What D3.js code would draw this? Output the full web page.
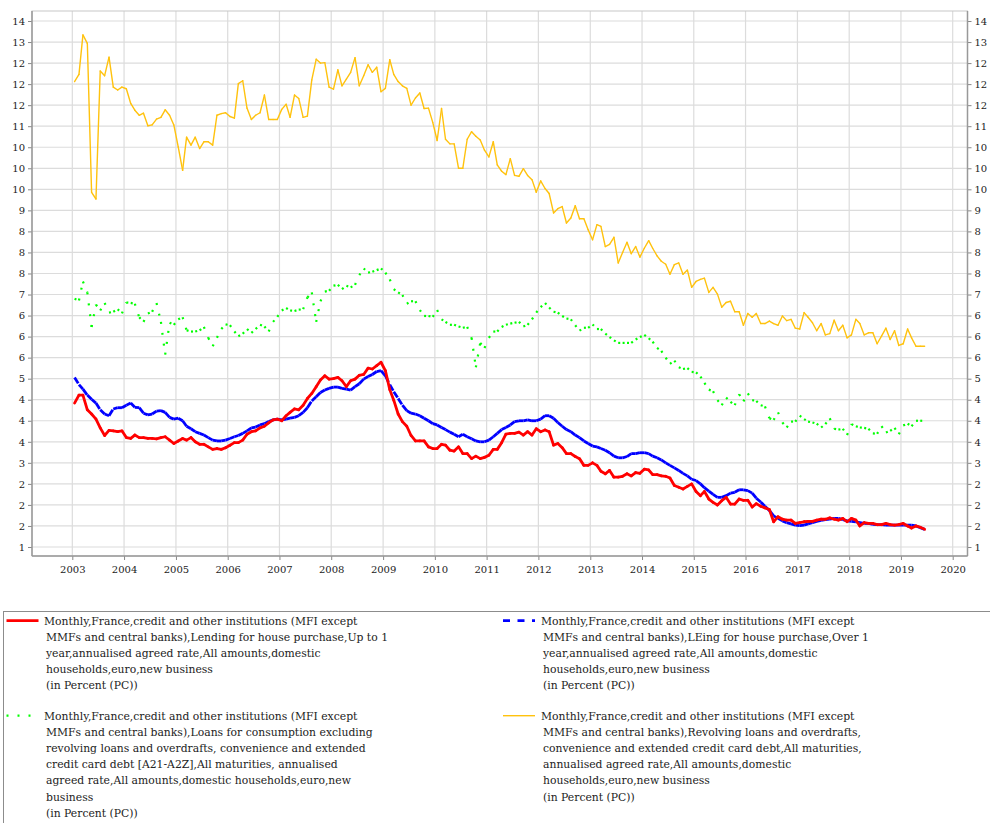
<!DOCTYPE html>
<html>
<head>
<meta charset="utf-8">
<script src="https://cdn.jsdelivr.net/npm/d3@7"></script>
<style>
  body { margin: 0; background: #fff; }
  svg text { font-family: "DejaVu Serif", serif; fill: #222; }
</style>
</head>
<body>
<div id="chart"></div>
<script>
// maandelijkse waarden, jan 2003 t/m jun 2019
const startMonth = new Date(2003, 0, 1)
const endMonth = new Date(2019, 6, 1)

const houseShort = [4.42,4.61,4.61,4.26,4.16,4.04,3.83,3.65,3.77,3.76,3.74,3.76,
  3.6,3.58,3.66,3.6,3.6,3.58,3.58,3.57,3.6,3.62,3.54,3.46,
  3.52,3.58,3.54,3.6,3.5,3.44,3.44,3.38,3.32,3.34,3.32,3.36,
  3.42,3.48,3.48,3.54,3.68,3.74,3.76,3.83,3.87,3.95,4.02,4.04,
  4.0,4.12,4.2,4.28,4.26,4.37,4.53,4.65,4.81,4.97,5.07,4.99,
  5.0,5.03,4.95,4.81,4.95,4.99,5.08,5.1,5.25,5.23,5.31,5.39,
  5.19,4.74,4.49,4.16,3.98,3.87,3.65,3.52,3.52,3.52,3.38,3.34,
  3.34,3.44,3.42,3.3,3.28,3.38,3.22,3.22,3.1,3.16,3.1,3.13,
  3.18,3.32,3.32,3.48,3.68,3.7,3.7,3.73,3.66,3.74,3.66,3.81,
  3.74,3.78,3.74,3.42,3.46,3.36,3.22,3.22,3.15,3.1,2.94,2.94,
  3.0,2.94,2.8,2.74,2.82,2.66,2.66,2.68,2.74,2.69,2.77,2.75,
  2.85,2.83,2.72,2.72,2.69,2.68,2.64,2.46,2.42,2.38,2.44,2.5,
  2.32,2.22,2.32,2.14,2.06,2.0,2.1,2.18,2.02,2.02,2.14,2.11,
  2.11,1.95,2.03,1.97,1.93,1.89,1.6,1.72,1.66,1.64,1.64,1.56,
  1.58,1.6,1.61,1.61,1.64,1.66,1.66,1.69,1.66,1.64,1.68,1.6,
  1.68,1.64,1.5,1.58,1.56,1.56,1.53,1.53,1.56,1.53,1.52,1.53,
  1.56,1.5,1.45,1.5,1.47,1.42]

const houseLong = [5.03,4.86,4.75,4.61,4.51,4.42,4.26,4.16,4.12,4.28,4.31,4.31,
  4.37,4.42,4.32,4.31,4.18,4.14,4.16,4.23,4.24,4.2,4.08,4.04,
  4.06,4.0,3.87,3.81,3.74,3.7,3.66,3.6,3.54,3.52,3.52,3.54,
  3.58,3.62,3.65,3.7,3.76,3.83,3.85,3.9,3.93,3.98,4.02,4.04,
  4.02,4.04,4.06,4.08,4.12,4.2,4.31,4.47,4.57,4.67,4.73,4.77,
  4.8,4.8,4.77,4.75,4.73,4.81,4.88,4.99,5.05,5.1,5.17,5.19,
  5.07,4.86,4.69,4.53,4.37,4.24,4.18,4.16,4.12,4.06,4.0,3.93,
  3.9,3.84,3.79,3.73,3.68,3.62,3.68,3.62,3.57,3.52,3.5,3.5,
  3.54,3.62,3.7,3.79,3.84,3.9,3.98,4.0,4.0,4.02,4.0,4.0,
  4.04,4.12,4.12,4.06,3.96,3.87,3.79,3.74,3.66,3.6,3.52,3.46,
  3.4,3.38,3.34,3.3,3.24,3.16,3.12,3.12,3.15,3.22,3.22,3.24,
  3.24,3.22,3.16,3.12,3.07,3.0,2.94,2.88,2.82,2.75,2.69,2.61,
  2.58,2.5,2.41,2.33,2.25,2.18,2.18,2.22,2.28,2.3,2.36,2.36,
  2.34,2.28,2.16,2.07,1.97,1.87,1.74,1.68,1.62,1.58,1.55,1.52,
  1.51,1.52,1.55,1.58,1.61,1.63,1.65,1.66,1.68,1.68,1.65,1.62,
  1.61,1.6,1.58,1.56,1.56,1.54,1.53,1.53,1.52,1.52,1.52,1.52,
  1.52,1.52,1.52,1.5,1.46,1.42]

const consumption = [6.9,6.86,7.31,7.05,6.23,6.76,6.62,6.8,6.57,6.59,6.65,6.55,
  6.81,6.8,6.78,6.46,6.35,6.55,6.59,6.8,6.35,5.57,6.33,6.28,
  6.41,6.46,6.15,6.12,6.12,6.15,6.23,5.97,5.77,5.97,6.18,6.29,
  6.27,6.12,6.01,6.07,6.18,6.09,6.18,6.28,6.24,6.12,6.35,6.47,
  6.62,6.68,6.62,6.61,6.64,6.65,6.93,7.05,6.35,6.84,7.07,7.09,
  7.21,7.23,7.13,7.21,7.17,7.23,7.46,7.62,7.52,7.54,7.58,7.62,
  7.52,7.36,7.13,7.05,6.99,6.78,6.84,6.84,6.63,6.49,6.49,6.47,
  6.63,6.41,6.35,6.28,6.28,6.24,6.21,6.23,5.97,5.27,5.85,5.73,
  5.97,6.12,6.12,6.23,6.28,6.31,6.33,6.35,6.24,6.28,6.41,6.57,
  6.7,6.8,6.69,6.59,6.57,6.49,6.43,6.41,6.27,6.14,6.21,6.21,
  6.29,6.18,6.18,6.07,5.99,5.91,5.85,5.85,5.85,5.85,5.93,5.99,
  6.04,5.96,5.88,5.73,5.66,5.5,5.35,5.43,5.27,5.23,5.25,5.16,
  5.15,5.05,4.9,4.74,4.7,4.49,4.37,4.55,4.45,4.37,4.63,4.46,
  4.65,4.49,4.47,4.37,4.34,4.06,4.02,4.2,3.96,3.84,3.98,3.98,
  4.12,4.04,3.98,3.96,3.93,3.84,3.92,4.06,3.81,3.79,3.81,3.66,
  3.92,3.87,3.84,3.83,3.81,3.7,3.69,3.87,3.72,3.76,3.83,3.68,
  3.89,3.93,3.87,4.0,4.0,4.0]

const revolving = [12.06,12.23,13.17,12.97,9.43,9.27,12.31,12.2,12.64,11.93,11.86,11.93,
  11.89,11.54,11.38,11.26,11.31,11.01,11.03,11.17,11.21,11.39,11.26,11.03,
  10.51,9.95,10.74,10.55,10.74,10.47,10.63,10.63,10.55,11.26,11.3,11.32,
  11.23,11.19,12.01,12.08,11.43,11.16,11.26,11.32,11.74,11.16,11.16,11.16,
  11.4,11.52,11.21,11.74,11.66,11.21,11.24,12.1,12.59,12.5,12.51,11.93,
  11.88,12.34,11.96,12.12,12.28,12.63,11.96,12.2,12.46,12.28,12.4,11.82,
  11.9,12.58,12.23,12.06,11.96,11.9,11.5,11.67,11.79,11.42,11.43,11.09,
  10.66,11.42,10.69,10.58,10.58,10.0,10.0,10.69,10.87,10.76,10.67,10.43,
  10.27,10.63,10.08,9.93,9.85,10.23,9.83,9.81,9.99,9.83,9.73,9.43,
  9.7,9.52,9.4,8.94,9.04,9.09,8.7,8.82,9.11,8.8,8.8,8.54,
  8.3,8.66,8.62,8.14,8.19,8.36,7.75,8.0,8.24,7.97,8.14,7.89,
  8.1,8.28,8.1,7.92,7.79,7.72,7.48,7.71,7.75,7.48,7.58,7.17,
  7.31,7.36,7.39,7.05,7.17,7.01,6.7,6.81,6.84,6.59,6.59,6.27,
  6.55,6.46,6.55,6.31,6.31,6.37,6.31,6.27,6.49,6.38,6.41,6.2,
  6.18,6.57,6.46,6.33,6.14,6.31,6.04,6.07,6.39,6.14,6.27,5.97,
  6.04,6.41,6.31,6.04,6.09,6.09,5.83,6.01,6.2,5.93,6.14,5.79,
  5.83,6.18,5.97,5.77,5.77,5.77]

// y-as: stappen van een halve procent
const yTicks = d3.range(1, 13.51, 0.5)
const xYears = d3.range(2003, 2021)

const legendLines = [
  ["Monthly,France,credit and other institutions (MFI except",
   "MMFs and central banks),Lending for house purchase,Up to 1",
   "year,annualised agreed rate,All amounts,domestic",
   "households,euro,new business",
   "(in Percent (PC))"],
  ["Monthly,France,credit and other institutions (MFI except",
   "MMFs and central banks),LEing for house purchase,Over 1",
   "year,annualised agreed rate,All amounts,domestic",
   "households,euro,new business",
   "(in Percent (PC))"],
  ["Monthly,France,credit and other institutions (MFI except",
   "MMFs and central banks),Loans for consumption excluding",
   "revolving loans and overdrafts, convenience and extended",
   "credit card debt [A21-A2Z],All maturities, annualised",
   "agreed rate,All amounts,domestic households,euro,new",
   "business",
   "(in Percent (PC))"],
  ["Monthly,France,credit and other institutions (MFI except",
   "MMFs and central banks),Revolving loans and overdrafts,",
   "convenience and extended credit card debt,All maturities,",
   "annualised agreed rate,All amounts,domestic",
   "households,euro,new business",
   "(in Percent (PC))"]
]

const width = 990
const height = 823
const frame = { left: 32, right: 967.5, top: 11, bottom: 556 }

const svg = d3.select('#chart').append('svg')
  .attr('width', width).attr('height', height)

const months = d3.timeMonth.range(startMonth, endMonth).map(d => d3.timeDay.offset(d, 16))

const x = d3.scaleTime()
  .domain([new Date(2003, 0, 1), new Date(2020, 0, 1)])
  .range([72.3, 952.7])
const y = d3.scaleLinear()
  .domain([1, 13.5])
  .range([547, 21])

//rasterlijnen
const grid = svg.append('g').attr('class', 'grid')
grid.selectAll('.hgrid').data(yTicks).enter().append('line')
  .attr('x1', frame.left).attr('x2', frame.right)
  .attr('y1', d => y(d)).attr('y2', d => y(d))
  .attr('stroke', '#dcdcdc').attr('stroke-width', 1.2)
grid.selectAll('.vgrid').data(xYears).enter().append('line')
  .attr('x1', d => x(new Date(d, 0, 1))).attr('x2', d => x(new Date(d, 0, 1)))
  .attr('y1', frame.top).attr('y2', frame.bottom)
  .attr('stroke', '#dcdcdc').attr('stroke-width', 1.2)

svg.append('rect')
  .attr('x', frame.left).attr('y', frame.top)
  .attr('width', frame.right - frame.left).attr('height', frame.bottom - frame.top)
  .attr('fill', 'none').attr('stroke', '#c8c8c8').attr('stroke-width', 1)

// afronden zoals het origineel (half naar even)
const roundLabel = v => {
  const f = Math.floor(v)
  if (Math.abs(v - f - 0.5) < 1e-9) return f % 2 === 0 ? f : f + 1
  return Math.round(v)
}

const styleAxis = g => {
  g.select('.domain').remove()
  g.selectAll('.tick line').attr('stroke', '#888')
  g.selectAll('.tick text').attr('font-size', 10).attr('fill', '#222')
    .attr('font-family', '"DejaVu Serif", serif')
}

svg.append('g')
  .attr('transform', `translate(${frame.left},0)`)
  .call(d3.axisLeft(y).tickValues(yTicks).tickFormat(roundLabel).tickSize(4).tickPadding(3))
  .call(styleAxis)
svg.append('g')
  .attr('transform', `translate(${frame.right},0)`)
  .call(d3.axisRight(y).tickValues(yTicks).tickFormat(roundLabel).tickSize(4).tickPadding(3))
  .call(styleAxis)
svg.append('g')
  .attr('transform', `translate(0,${frame.bottom})`)
  .call(d3.axisBottom(x).tickValues(xYears.map(d => new Date(d, 0, 1)))
    .tickFormat(d3.timeFormat('%Y')).tickSize(4).tickPadding(6))
  .call(styleAxis)

//as-lijnen
svg.append('line').attr('x1', frame.left).attr('x2', frame.left)
  .attr('y1', frame.top).attr('y2', frame.bottom).attr('stroke', '#999').attr('stroke-width', 1.5)
svg.append('line').attr('x1', frame.right).attr('x2', frame.right)
  .attr('y1', frame.top).attr('y2', frame.bottom).attr('stroke', '#999').attr('stroke-width', 1.5)
svg.append('line').attr('x1', frame.left).attr('x2', frame.right)
  .attr('y1', frame.bottom).attr('y2', frame.bottom).attr('stroke', '#999').attr('stroke-width', 1.5)

const series = [
  { values: revolving, color: '#ffc20e', width: 1.4, dash: null },
  { values: consumption, color: '#00ff00', width: 2.2, dash: '2,9' },
  { values: houseLong, color: '#0000ff', width: 2.8, dash: '7,7.5' },
  { values: houseShort, color: '#ff0000', width: 2.8, dash: null }
]

// elk segment apart, zodat het streepjespatroon per maand opnieuw begint
series.forEach(s => {
  const pts = s.values.map((v, i) => [months[i], v])
  svg.append('g').selectAll('line').data(d3.pairs(pts)).enter().append('line')
    .attr('x1', d => x(d[0][0])).attr('y1', d => y(d[0][1]))
    .attr('x2', d => x(d[1][0])).attr('y2', d => y(d[1][1]))
    .attr('stroke', s.color).attr('stroke-width', s.width)
    .attr('stroke-linecap', s.dash ? 'butt' : 'round')
    .attr('stroke-dasharray', s.dash)
})

//legenda
svg.append('rect').attr('x', 3.5).attr('y', 611.5).attr('width', 1000).attr('height', 300)
  .attr('fill', 'none').attr('stroke', '#8c8c8c').attr('stroke-width', 1)

const legendPos = [
  { sx: 6.5, tx: 44, ty: 620.7, s: series[3] },
  { sx: 503, tx: 541, ty: 620.7, s: series[2] },
  { sx: 6.5, tx: 44, ty: 715.7, s: series[1] },
  { sx: 503, tx: 541, ty: 715.7, s: series[0] }
]
legendPos.forEach((p, i) => {
  svg.append('line').attr('x1', p.sx).attr('x2', p.sx + 32)
    .attr('y1', p.ty).attr('y2', p.ty)
    .attr('stroke', p.s.color).attr('stroke-width', p.s.width)
    .attr('stroke-dasharray', p.s.dash)
  svg.append('text')
    .attr('font-size', 10.8)
    .selectAll('tspan').data(legendLines[i]).enter().append('tspan')
    .attr('x', (d, j) => j === 0 ? p.tx : p.tx + 2)
    .attr('y', (d, j) => p.ty + 3.8 + j * 16.2)
    .text(d => d)
})
</script>
</body>
</html>
